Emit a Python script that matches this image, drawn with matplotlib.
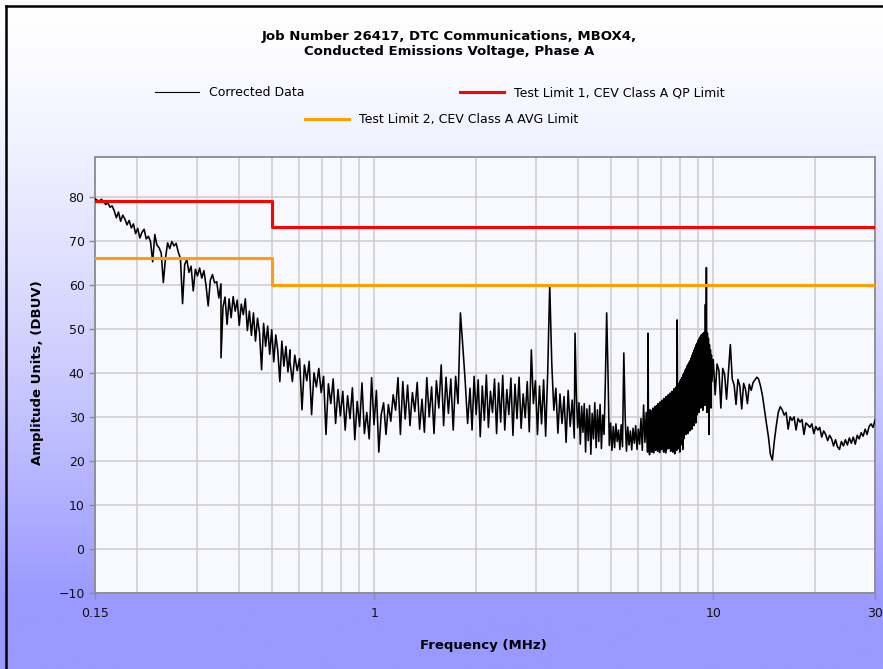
import numpy as np
import matplotlib
matplotlib.use('Agg')
import matplotlib.pyplot as plt
from matplotlib.lines import Line2D
from matplotlib.ticker import FixedLocator, LogLocator, NullFormatter

# ---- corrected data (MHz range, dBuV) ----
band_a_range = (0.15, 0.353)
band_a_amp = [79.5, 79.2, 79.0, 79.4, 78.8, 78.2, 78.6, 77.6, 77.9, 76.8,
              75.2, 76.5, 74.4, 75.8, 74.9, 73.6, 74.6, 72.9, 73.8, 71.6,
              72.8, 70.6, 71.9, 72.6, 70.4, 71.0, 69.8, 65.2, 71.4, 69.0,
              68.4, 67.2, 60.5, 66.0, 69.5, 68.2, 69.8, 68.8, 69.4, 67.4,
              66.0, 55.7, 64.6, 65.7, 62.8, 64.2, 58.6, 63.5, 62.0, 63.8,
              61.5, 63.2, 59.8, 55.2, 61.0, 62.3, 60.4, 60.7, 57.0, 60.2]

band_b_range = (0.353, 0.564)
band_b_amp = [43.4, 55.0, 57.2, 51.0, 56.8, 52.5, 57.3, 54.0, 56.5, 50.8,
              55.6, 53.2, 56.8, 49.6, 54.0, 48.5, 53.6, 47.2, 52.4, 49.0,
              40.7, 51.2, 46.0, 50.6, 44.2, 49.8, 42.5, 48.6, 45.0, 38.0,
              47.2, 41.5, 46.0, 40.2, 45.2]

band_c_range = (0.564, 1.916)
band_c_amp = [42.5, 38.0, 44.0, 40.5, 43.2, 31.6, 41.8, 38.2, 42.6, 30.5,
              40.0, 36.8, 41.0, 35.5, 39.2, 26.0, 37.5, 33.0, 38.6, 28.5,
              36.2, 30.2, 35.8, 27.0, 34.8, 29.6, 36.6, 24.8, 33.5, 27.8,
              37.7, 26.2, 31.0, 25.0, 38.9, 28.2, 36.0, 22.0, 30.5, 33.2,
              26.0, 32.8, 29.0, 35.0, 31.5, 38.9, 26.0, 38.0, 29.5, 37.2,
              28.0, 35.5, 31.2, 37.8, 27.2, 34.0, 26.5, 38.9, 30.0, 36.8,
              26.2, 38.2, 32.0, 41.8, 28.0, 39.0, 30.8, 38.6, 27.0, 39.2,
              33.0, 53.6, 46.0, 38.0, 28.5, 36.5]

band_d_range = (1.916, 3.89)
band_d_amp = [36.5, 27.0, 39.2, 30.5, 38.4, 25.5, 37.0, 29.2, 39.5, 27.6,
              35.8, 31.0, 38.6, 26.2, 37.7, 28.8, 39.4, 27.0, 36.2, 30.5,
              38.8, 25.8, 37.4, 29.6, 39.0, 27.4, 35.2, 29.8, 38.0, 26.6,
              45.2, 33.0, 38.2, 26.0, 37.0, 28.4, 38.4, 25.6, 40.0, 60.0,
              42.0, 31.5, 36.5, 26.3, 35.2, 28.5, 34.6, 24.2, 36.0, 27.8,
              33.8, 25.2]

band_d2_range = (3.91, 6.40)
band_d2_amp = [49.0, 35.0, 27.5, 33.2, 23.8, 32.4, 26.5, 33.0, 22.0, 31.8,
               24.6, 32.6, 21.5, 30.8, 25.0, 33.2, 23.0, 31.6, 24.4, 32.8,
               22.8, 30.4, 26.0, 38.0, 53.6, 40.0, 23.5, 28.6, 22.4, 27.8,
               23.0, 28.4, 24.4, 27.0, 22.6, 28.2, 23.2, 44.5, 30.2, 22.2,
               27.7, 23.6, 26.8, 22.5, 27.4, 24.0, 28.0, 22.6, 27.2, 23.8,
               29.6, 22.4, 32.7, 24.2, 31.0, 22.0]

# dense resonance band: upper and lower swing of the trace
band_e_range = (6.42, 9.91)
band_e_hi = [49.0, 31.0, 31.6, 30.8, 31.4, 32.0, 31.2, 32.4, 31.8, 32.6,
             33.0, 32.4, 33.4, 32.8, 33.8, 33.2, 34.2, 33.6, 34.6, 34.0,
             35.0, 34.6, 35.4, 35.0, 35.8, 35.4, 36.4, 36.0, 36.8, 52.0,
             37.2, 37.6, 38.2, 38.6, 39.0, 39.6, 40.0, 40.6, 41.0, 41.6,
             42.0, 42.4, 42.8, 43.4, 44.0, 44.6, 45.2, 45.8, 46.4, 46.8,
             47.4, 47.8, 48.2, 48.6, 48.8, 49.0, 49.2, 55.5, 63.9, 49.0,
             47.8, 46.4, 45.2, 44.0]
band_e_lo = [22.5, 21.4, 23.6, 22.0, 24.2, 21.8, 23.0, 22.4, 24.0, 22.2,
             23.4, 21.9, 23.8, 22.6, 24.4, 22.0, 23.2, 21.8, 22.6, 24.2,
             22.8, 23.6, 22.2, 24.6, 22.0, 23.0, 21.6, 23.8, 22.4, 24.0,
             22.8, 22.0, 23.6, 24.8, 22.6, 25.0, 27.2, 26.0, 28.0, 26.2,
             29.0, 26.8, 28.4, 27.2, 29.5, 28.0, 30.0, 28.6, 30.4, 33.6,
             31.0, 34.0, 32.0, 33.2, 31.5, 34.0, 32.6, 33.8, 31.0, 34.0,
             26.0, 36.0, 32.0, 38.0]

band_f_range = (10.0, 13.45)
band_f_amp = [43.0, 35.0, 42.0, 40.5, 32.0, 41.0, 39.6, 34.0, 40.2, 46.4,
              38.6, 37.2, 32.8, 38.5, 37.0, 31.8, 37.6, 36.2, 33.0, 37.4,
              36.0, 37.8, 38.4, 39.0]

band_g_range = (13.6, 30.0)
band_g_amp = [38.6, 37.0, 34.8, 31.6, 28.5, 25.5, 21.5, 20.2, 24.5, 28.0,
              31.0, 32.3, 31.6, 30.4, 31.0, 27.2, 30.0, 29.2, 30.0, 27.0,
              29.6, 28.8, 29.4, 26.0, 28.6, 28.2, 27.6, 28.4, 26.2, 27.8,
              27.0, 27.6, 25.4, 26.8, 26.0, 24.6, 25.8, 25.0, 23.4, 24.8,
              23.2, 22.6, 24.4, 23.4, 24.8, 23.6, 25.2, 24.0, 25.4, 23.8,
              25.8, 25.0, 26.4, 25.6, 27.2, 26.0, 27.8, 28.4, 27.6, 29.3]

# ---- test limits ----
qp_limit_freq = [0.15, 0.5, 0.5, 30]
qp_limit_amp = [79, 79, 73, 73]
avg_limit_freq = [0.15, 0.5, 0.5, 30]
avg_limit_amp = [66, 66, 60, 60]

x_ticks = [0.15, 1, 10, 30]
x_tick_labels = ['0.15', '1', '10', '30']
y_ticks = list(range(-10, 81, 10))

title = 'Job Number 26417, DTC Communications, MBOX4,\nConducted Emissions Voltage, Phase A'


def band(rng, amps):
    """spread the read values evenly (log scale) across a band"""
    return np.geomspace(rng[0], rng[1], len(amps)), np.asarray(amps, dtype=float)


def build_trace():
    parts = [band(band_a_range, band_a_amp),
             band(band_b_range, band_b_amp),
             band(band_c_range, band_c_amp),
             band(band_d_range, band_d_amp),
             band(band_d2_range, band_d2_amp),
             band(band_e_range, np.column_stack([band_e_hi, band_e_lo]).ravel()),
             band(band_f_range, band_f_amp),
             band(band_g_range, band_g_amp)]
    freq = np.concatenate([p[0] for p in parts])
    amp = np.concatenate([p[1] for p in parts])
    return freq, amp


W, H = 883, 669
fig = plt.figure(figsize=(W / 100, H / 100), dpi=100)

# background: white at the top fading into lavender blue
bg = fig.add_axes([0, 0, 1, 1], zorder=-10)
t = np.clip(np.linspace(0, 1, 400) * 669 / 600, 0, 1) ** 1.4
top = np.array([1.0, 1.0, 1.0])
bottom = np.array([153, 153, 255]) / 255
grad = top[None, :] * (1 - t[:, None]) + bottom[None, :] * t[:, None]
bg.imshow(grad[:, None, :], aspect='auto', extent=[0, 1, 0, 1])
bg.set_axis_off()

# black frame on left and top
fig.add_artist(Line2D([5.5 / W, 5.5 / W], [0, 1 - 5.5 / H], transform=fig.transFigure,
                      color='black', lw=1.8))
fig.add_artist(Line2D([5.5 / W, 1], [1 - 5.5 / H, 1 - 5.5 / H], transform=fig.transFigure,
                      color='black', lw=1.8))

ax = fig.add_axes([95 / W, 1 - 593 / H, 780 / W, 436 / H])
ax.set_facecolor('#f8f8ff')

freq, amp = build_trace()
ax.plot(freq, amp, color='black', lw=1.15, zorder=3)
ax.plot(qp_limit_freq, qp_limit_amp, color='#ff0000', lw=2.2, zorder=4)
ax.plot(avg_limit_freq, avg_limit_amp, color='#ffa000', lw=2.2, zorder=4)

ax.set_xscale('log')
ax.set_xlim(0.15, 30)
ax.set_ylim(-10, 89)
ax.xaxis.set_major_locator(FixedLocator(x_ticks))
ax.set_xticklabels(x_tick_labels)
ax.xaxis.set_minor_locator(LogLocator(base=10, subs=np.arange(2, 10)))
ax.xaxis.set_minor_formatter(NullFormatter())
ax.set_yticks(y_ticks)

ax.grid(True, which='both', color='#cccccc', lw=1.1, zorder=0)
ax.set_axisbelow(True)
for s in ax.spines.values():
    s.set_color('#8c8c8c')
    s.set_linewidth(1.3)
ax.tick_params(which='major', length=4, width=1, color='#8c8c8c',
               labelsize=9, labelcolor='#111111')
ax.tick_params(which='minor', length=0)
ax.tick_params(axis='x', pad=6)

fig.text(449 / W, 1 - 44 / H, title, ha='center', va='center',
         fontsize=9.5, fontweight='bold', linespacing=1.2)
fig.text(483 / W, 1 - 646 / H, 'Frequency (MHz)', ha='center', va='center',
         fontsize=9.5, fontweight='bold')
fig.text(38 / W, 1 - 373 / H, 'Amplitude Units, (DBUV)', ha='center', va='center',
         rotation=90, fontsize=9.5, fontweight='bold')

# legend entries, laid out like the original (two on first row, one below)
keys = [(Line2D([], [], color='black', lw=0.8), 'Corrected Data', 155, 93),
        (Line2D([], [], color='#ff0000', lw=2.2), 'Test Limit 1, CEV Class A QP Limit', 460, 93),
        (Line2D([], [], color='#ffa000', lw=2.2), 'Test Limit 2, CEV Class A AVG Limit', 305, 120)]
for handle, label, x_px, y_px in keys:
    fig.legend([handle], [label], loc='center left',
               bbox_to_anchor=(x_px / W, 1 - y_px / H), frameon=False,
               fontsize=9, handlelength=3.5, handletextpad=0.8,
               borderpad=0, borderaxespad=0)

fig.savefig('out.png', dpi=100)
